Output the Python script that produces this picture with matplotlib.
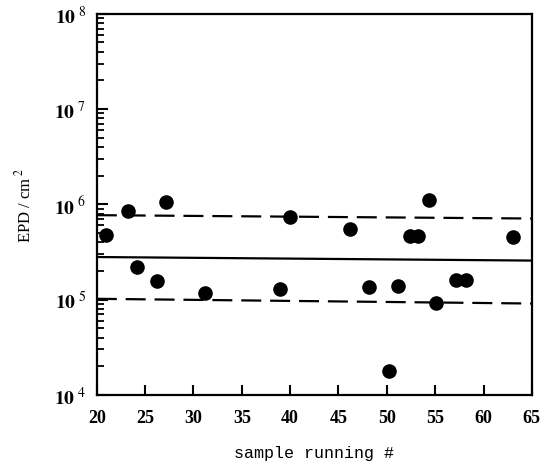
import matplotlib
matplotlib.use("Agg")
import matplotlib.pyplot as plt
import matplotlib.ticker as mticker
import numpy as np

plt.rcParams['font.family'] = ['Liberation Serif', 'DejaVu Serif']
plt.rcParams['mathtext.fontset'] = 'stix'

# sample number and etch pit density (cm^-2)
sample = [21.0, 23.2, 24.2, 26.2, 27.2, 31.2, 38.9, 40.0, 46.2, 48.2,
          50.2, 51.2, 52.4, 53.2, 54.4, 55.1, 57.2, 58.2, 63.0]
epd = [4.8e5, 8.5e5, 2.2e5, 1.55e5, 1.07e6, 1.18e5, 1.3e5, 7.4e5, 5.5e5, 1.37e5,
       1.8e4, 1.38e5, 4.6e5, 4.6e5, 1.1e6, 9.2e4, 1.6e5, 1.6e5, 4.5e5]

# mean and +/- bands (start, end)
line_x = [20, 65]
mean_line = [2.8e5, 2.57e5]
upper_line = [7.7e5, 7.1e5]
lower_line = [1.02e5, 9.1e4]

xticks = [20, 25, 30, 35, 40, 45, 50, 55, 60, 65]

fig = plt.figure(figsize=(5.5, 4.77), dpi=100)
ax = fig.add_axes([0.176, 0.170, 0.791, 0.799])

ax.plot(line_x, mean_line, color='black', lw=1.6)
ax.plot(line_x, upper_line, color='black', lw=1.6, dashes=(9, 4))
ax.plot(line_x, lower_line, color='black', lw=1.6, dashes=(9, 4))
ax.plot(sample, epd, 'o', color='black', markersize=10.5, markeredgewidth=0)

ax.set_yscale('log')
ax.set_ylim(1e4, 1e8)
ax.set_xlim(20, 65)
ax.set_xticks(xticks)
ax.set_xticklabels([str(t) for t in xticks], fontsize=13, fontweight='bold')

ax.yaxis.set_major_locator(mticker.LogLocator(base=10, numticks=10))
ax.yaxis.set_minor_locator(mticker.LogLocator(base=10, subs=np.arange(2, 10), numticks=20))
ax.yaxis.set_major_formatter(mticker.FuncFormatter(lambda v, p: r'$\mathbf{10}^{\ %d}$' % round(np.log10(v))))
for lab in ax.get_yticklabels():
    lab.set_fontsize(14)

ax.tick_params(axis='x', which='major', direction='in', length=7, width=1.5, pad=10)
ax.tick_params(axis='y', which='major', direction='in', length=8, width=1.5, pad=8)
ax.tick_params(axis='y', which='minor', direction='in', length=5, width=1.3)

for s in ax.spines.values():
    s.set_linewidth(1.6)

ax.set_ylabel(r'EPD / cm$^{\ 2}$', fontsize=12, labelpad=14)
ax.set_xlabel('sample running #', fontsize=12, family=['Liberation Mono', 'DejaVu Sans Mono'],
              labelpad=14)

fig.savefig('out.png', dpi=100)
